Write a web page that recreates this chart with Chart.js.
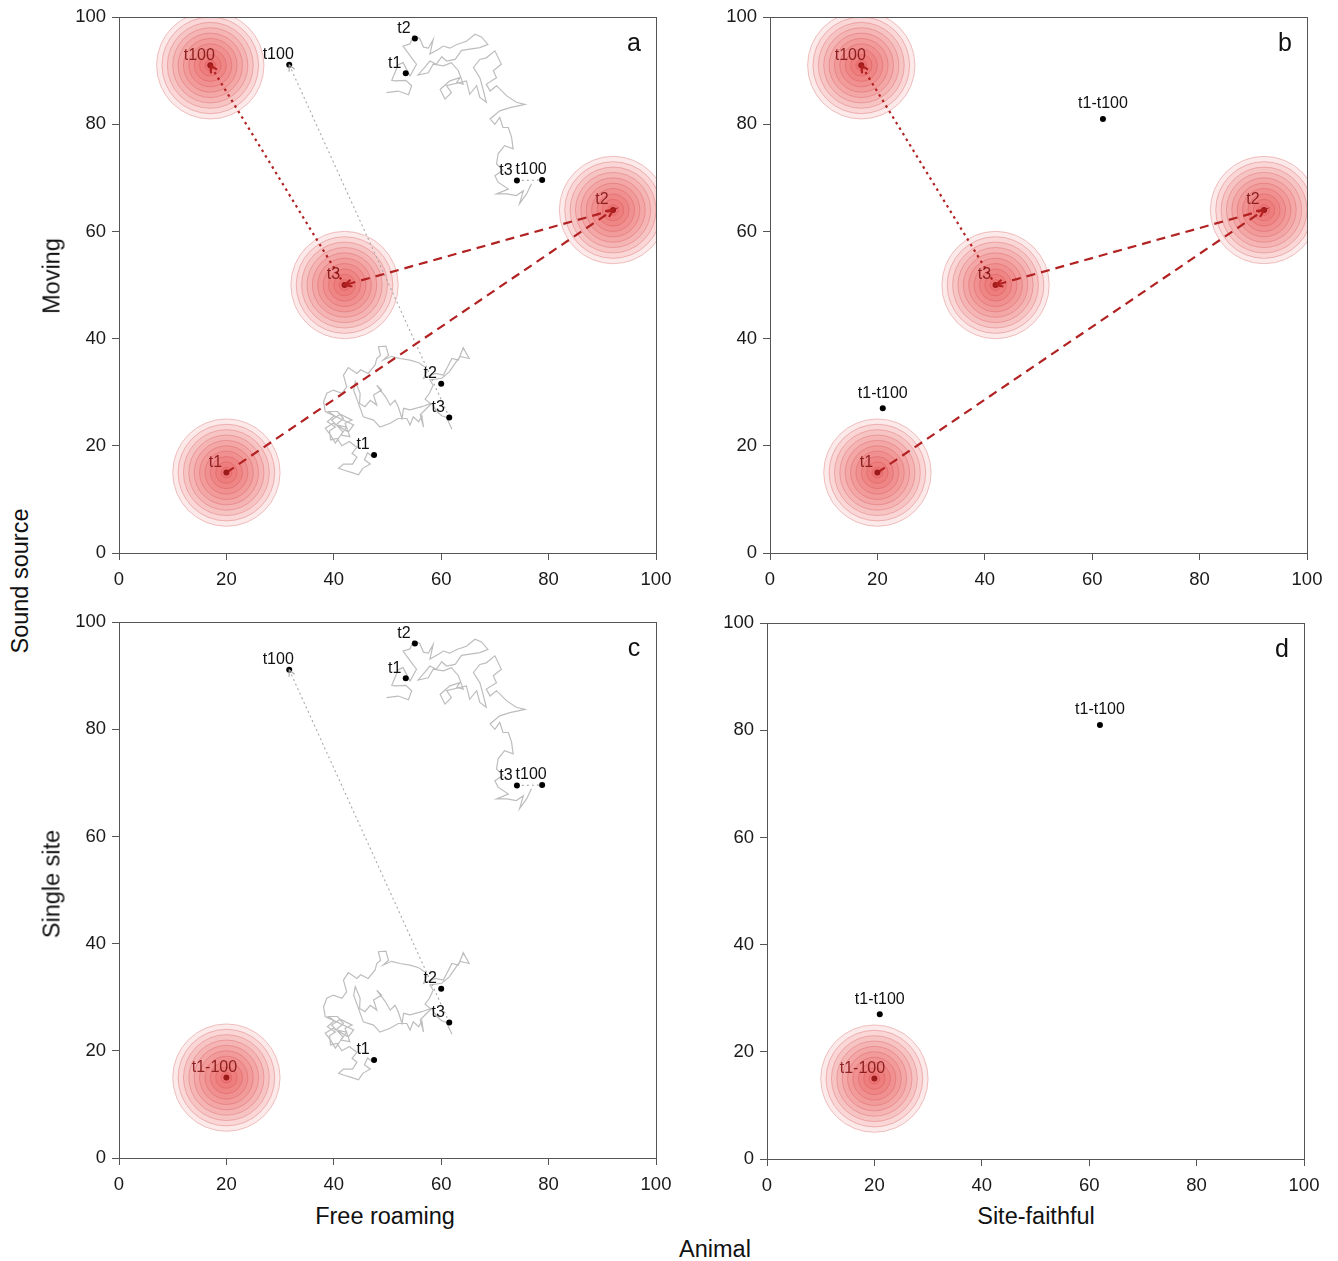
<!DOCTYPE html>
<html>
<head>
<meta charset="utf-8">
<script src="https://cdn.jsdelivr.net/npm/chart.js@4/dist/chart.umd.min.js"></script>
<style>
  body { margin: 0; width: 1338px; height: 1261px; position: relative; background: #fff; overflow: hidden; font-family: "Liberation Sans", Arial, sans-serif; }
  canvas { position: absolute; }
  .lbl { position: absolute; font-size: 23.5px; color: #111; white-space: nowrap; transform: translate(-50%, -50%); }
  .rot { transform: translate(-50%, -50%) rotate(-90deg); }
</style>
</head>
<body>
<canvas id="pa" width="623" height="593" style="left:59px;top:0px"></canvas>
<canvas id="pb" width="623" height="593" style="left:710px;top:0px"></canvas>
<canvas id="pc" width="623" height="593" style="left:59px;top:605px"></canvas>
<canvas id="pd" width="623" height="593" style="left:707px;top:606px"></canvas>

<div class="lbl rot" style="left:52px;top:276px">Moving</div>
<div class="lbl rot" style="left:52px;top:884px">Single site</div>
<div class="lbl rot" style="left:20px;top:581px">Sound source</div>
<div class="lbl" style="left:385px;top:1216px">Free roaming</div>
<div class="lbl" style="left:1036px;top:1216px">Site-faithful</div>
<div class="lbl" style="left:715px;top:1249px">Animal</div>

<script>
// axis ticks
const tickValues = [0, 20, 40, 60, 80, 100];

// sound source positions
const movingSrcX = [20, 92, 42, 17];
const movingSrcY = [15, 64, 50, 91];
const movingSrcLabels = ["t1", "t2", "t3", "t100"];
const singleSrcX = [20];
const singleSrcY = [15];
const singleSrcLabels = ["t1-100"];
// radii of the concentric rings around a source
const ringRadii = [1, 2, 3, 4, 5, 6, 7, 8, 9, 10];

// free roaming animals (t1, t2, t3, t100)
const roamerAX = [47.5, 60.0, 61.5, 31.7];
const roamerAY = [18.3, 31.6, 25.3, 91.1];
const roamerBX = [53.4, 55.1, 74.1, 78.8];
const roamerBY = [89.5, 96.0, 69.5, 69.6];
const roamerLabels = ["t1", "t2", "t3", "t100"];

// tracks of the free roaming animals
const walkAX = [47.1, 46.3, 45.7, 46.8, 45.4, 44.6, 43.4, 42.1, 40.9, 41.8, 43.5, 44.3, 43.4, 44.3, 42.9, 41.5, 40.6, 39.4, 39.2, 40.3,
  38.8, 40.1, 39.0, 40.7, 41.8, 40.4, 42.4, 41.3, 43.0, 42.1, 43.4, 41.2, 39.6, 41.7, 40.3, 39.4, 38.4, 39.9, 42.7, 43.7,
  38.4, 38.1, 38.7, 39.9, 41.5, 42.4, 41.8, 42.7, 44.3, 45.0, 46.4, 47.7, 48.0, 48.7, 48.3, 49.7, 50.2, 49.2, 50.8, 52.3,
  54.2, 55.8, 57.0, 57.3, 56.7, 58.9, 60.4, 61.0, 62.0, 63.2, 64.1, 65.2, 63.5, 62.4, 61.5, 60.1, 57.9, 58.5, 57.8, 57.0,
  58.0, 56.4, 54.2, 53.0, 52.7, 52.0, 51.4, 50.5, 49.6, 48.0, 48.9, 47.4, 48.0, 46.8, 45.8, 44.8, 44.9, 44.0, 43.7, 45.5,
  47.4, 48.6, 50.5, 52.0, 53.6, 54.2, 54.8, 55.8, 56.4, 56.7, 56.1, 58.2, 59.2, 60.1, 61.0, 62.0];
const walkAY = [18.0, 18.7, 17.4, 16.6, 15.8, 14.6, 15.0, 15.4, 15.8, 16.6, 16.6, 17.9, 18.6, 19.7, 20.8, 20.0, 21.4, 21.1, 22.8, 23.5,
  24.5, 25.6, 26.4, 26.4, 25.1, 23.9, 23.5, 22.0, 21.7, 24.2, 24.8, 25.9, 24.8, 22.6, 20.5, 22.0, 23.3, 24.2, 22.6, 23.9,
  26.4, 28.2, 29.8, 30.4, 29.8, 31.0, 33.2, 34.6, 33.5, 34.2, 33.5, 35.1, 36.3, 36.9, 38.5, 38.6, 36.9, 36.0, 36.7, 36.3,
  36.0, 35.5, 34.7, 33.8, 32.6, 33.5, 33.2, 34.4, 36.3, 36.0, 38.3, 36.3, 36.7, 35.1, 33.8, 32.6, 32.3, 31.3, 29.8, 28.7,
  27.9, 27.3, 26.7, 27.0, 25.1, 27.3, 28.5, 27.6, 29.2, 31.3, 30.4, 29.5, 27.6, 28.5, 27.3, 27.9, 29.8, 32.0, 30.4, 25.4,
  24.8, 23.5, 24.2, 25.1, 25.1, 23.9, 25.4, 24.5, 25.6, 23.5, 25.8, 27.9, 26.4, 25.6, 25.3, 23.1];
const walkBX = [49.8, 52.0, 53.9, 54.5, 53.4, 51.4, 50.8, 52.0, 52.9, 54.2, 55.4, 54.5, 52.9, 54.2, 54.8, 56.0, 56.7, 57.6, 58.5, 57.9,
  59.5, 60.4, 61.6, 62.9, 64.7, 66.3, 67.5, 68.7, 67.2, 63.8, 62.6, 61.0, 60.1, 59.1, 57.9, 57.0, 55.7, 57.6, 58.5, 60.4,
  61.9, 63.2, 64.1, 62.9, 63.5, 61.6, 59.8, 60.7, 61.9, 61.0, 64.7, 65.3, 66.6, 67.2, 68.4, 67.8, 67.2, 66.0, 67.2, 68.4,
  70.0, 71.2, 69.7, 70.3, 68.4, 69.1, 70.3, 72.2, 74.0, 75.6, 72.8, 70.9, 69.1, 70.0, 70.9, 71.5, 72.5, 73.1, 73.4, 71.8,
  70.6, 70.3, 71.5, 70.0, 70.6, 72.5, 70.3, 72.2, 74.0, 75.3, 74.6, 75.9, 76.8];
const walkBY = [85.9, 86.2, 85.5, 87.2, 88.2, 88.1, 88.2, 91.1, 91.5, 89.0, 91.2, 92.4, 94.6, 95.0, 96.5, 96.0, 94.4, 94.2, 95.8, 93.1,
  94.0, 94.6, 94.2, 94.9, 95.5, 96.8, 96.3, 94.9, 94.3, 93.8, 92.1, 91.8, 92.6, 91.2, 91.8, 90.7, 89.2, 89.6, 91.2, 90.9,
  91.5, 90.0, 87.5, 87.8, 88.7, 88.1, 86.5, 84.7, 85.9, 87.2, 88.1, 85.6, 87.2, 85.0, 84.1, 86.5, 88.7, 90.6, 92.1, 92.4,
  93.7, 91.2, 90.0, 88.7, 87.5, 86.2, 87.2, 85.3, 84.1, 83.7, 83.1, 82.5, 81.0, 80.0, 81.3, 79.4, 79.4, 77.6, 75.4, 76.0,
  74.5, 72.6, 71.4, 70.4, 69.2, 67.9, 67.0, 67.0, 66.7, 67.6, 65.2, 67.0, 68.9];

// site-faithful animals
const faithfulX = [62, 21];
const faithfulY = [81, 27];
const faithfulLabels = ["t1-t100", "t1-t100"];

const FONT = '"Liberation Sans", Arial, sans-serif';
const pts = (xs, ys) => xs.map((x, i) => ({ x: x, y: ys[i] }));

// box around the plot + panel letter + point labels + arrow heads
const extras = {
  id: "extras",
  afterDatasetsDraw(chart) {
    const ctx = chart.ctx;
    ctx.save();
    chart.data.datasets.forEach((ds, i) => {
      const meta = chart.getDatasetMeta(i);
      if (ds.arrowHeads) {
        for (let k = 1; k < meta.data.length; k++) {
          const p0 = meta.data[k - 1], p1 = meta.data[k];
          const ang = Math.atan2(p1.y - p0.y, p1.x - p0.x);
          const L = ds.arrowLen || 8;
          ctx.strokeStyle = ds.borderColor;
          ctx.lineWidth = ds.borderWidth;
          ctx.setLineDash([]);
          ctx.beginPath();
          ctx.moveTo(p1.x - L * Math.cos(ang - 0.45), p1.y - L * Math.sin(ang - 0.45));
          ctx.lineTo(p1.x, p1.y);
          ctx.lineTo(p1.x - L * Math.cos(ang + 0.45), p1.y - L * Math.sin(ang + 0.45));
          ctx.stroke();
        }
      }
      if (ds.pointLabels) {
        ctx.font = "16px " + FONT;
        ctx.fillStyle = ds.labelColor;
        ctx.textAlign = "center";
        ctx.textBaseline = "middle";
        meta.data.forEach((p, k) => {
          const dx = ds.labelDx !== undefined ? ds.labelDx : -11;
          const dy = ds.labelDy !== undefined ? ds.labelDy : -10;
          ctx.fillText(ds.pointLabels[k], p.x + dx, p.y + dy);
        });
      }
    });
    ctx.restore();
  },
  afterDraw(chart) {
    const ctx = chart.ctx;
    const a = chart.chartArea;
    ctx.save();
    ctx.strokeStyle = "#555";
    ctx.lineWidth = 1;
    ctx.strokeRect(Math.round(a.left) + 0.5, Math.round(a.top) + 0.5, Math.round(a.right - a.left), Math.round(a.bottom - a.top));
    ctx.font = "25px " + FONT;
    ctx.fillStyle = "#111";
    ctx.textAlign = "center";
    ctx.textBaseline = "middle";
    ctx.fillText(chart.options.plugins.extras.letter, a.right - 22, a.top + 27);
    ctx.restore();
  }
};

function ringDatasets(xs, ys) {
  return ringRadii.map(r => ({
    data: pts(xs, ys),
    pointRadius: c => c.chart.scales.x.getPixelForValue(r) - c.chart.scales.x.getPixelForValue(0),
    pointBackgroundColor: "rgba(232, 58, 58, 0.11)",
    pointBorderColor: "rgba(205, 70, 70, 0.3)",
    pointBorderWidth: 1,
    showLine: false,
    clip: 0,
    order: 30
  }));
}

function walkDatasets() {
  return [
    { data: pts(walkAX, walkAY), showLine: true, pointRadius: 0, borderColor: "#bdbdbd", borderWidth: 1.2, clip: 0, order: 20 },
    { data: pts(walkBX, walkBY), showLine: true, pointRadius: 0, borderColor: "#bdbdbd", borderWidth: 1.2, clip: 0, order: 20 },
    { data: pts(roamerAX.slice(2), roamerAY.slice(2)), showLine: true, pointRadius: 0, borderColor: "#a8a8a8", borderWidth: 1.1,
      borderDash: [2, 3], arrowHeads: true, arrowLen: 7, order: 19 },
    { data: pts(roamerBX.slice(2), roamerBY.slice(2)), showLine: true, pointRadius: 0, borderColor: "#a8a8a8", borderWidth: 1.1,
      borderDash: [2, 3], order: 19 },
    { data: pts(roamerAX, roamerAY), showLine: false, pointRadius: 3, pointBackgroundColor: "#000", pointBorderWidth: 0,
      pointLabels: roamerLabels, labelColor: "#111", order: 1 },
    { data: pts(roamerBX, roamerBY), showLine: false, pointRadius: 3, pointBackgroundColor: "#000", pointBorderWidth: 0,
      pointLabels: roamerLabels, labelColor: "#111", order: 1 }
  ];
}

function faithfulDatasets() {
  return [
    { data: pts(faithfulX, faithfulY), showLine: false, pointRadius: 3, pointBackgroundColor: "#000", pointBorderWidth: 0,
      pointLabels: faithfulLabels, labelColor: "#111", labelDx: 0, labelDy: -15, order: 1 }
  ];
}

function movingDatasets() {
  return ringDatasets(movingSrcX, movingSrcY).concat([
    { data: pts(movingSrcX, movingSrcY), showLine: true, pointRadius: 0, borderColor: "#b22222", borderWidth: 2.2,
      segment: { borderDash: c => (c.p0DataIndex === 2 ? [2.5, 4] : [9, 6]) }, arrowHeads: true, arrowLen: 8, order: 5 },
    { data: pts(movingSrcX, movingSrcY), showLine: false, pointRadius: 3, pointBackgroundColor: "#9b1b1b", pointBorderWidth: 0,
      pointLabels: movingSrcLabels, labelColor: "rgba(130, 20, 20, 0.9)", order: 2 }
  ]);
}

function singleDatasets() {
  return ringDatasets(singleSrcX, singleSrcY).concat([
    { data: pts(singleSrcX, singleSrcY), showLine: false, pointRadius: 3, pointBackgroundColor: "#9b1b1b", pointBorderWidth: 0,
      pointLabels: singleSrcLabels, labelColor: "rgba(130, 20, 20, 0.9)", labelDx: -12, order: 2 }
  ]);
}

function axis(isY) {
  return {
    type: "linear",
    min: 0,
    max: 100,
    afterBuildTicks: s => { s.ticks = tickValues.map(v => ({ value: v })); },
    afterFit: s => { if (isY) s.width = 60; else s.height = 40; },
    grid: { display: true, drawOnChartArea: false, drawTicks: true, tickLength: 7, color: "#555", lineWidth: 1 },
    border: { display: true, color: "#555", width: 1 },
    ticks: { font: { family: FONT, size: 18.5 }, color: "#1a1a1a", padding: isY ? 6 : 9, maxRotation: 0 }
  };
}

function makePanel(id, letter, datasets) {
  new Chart(document.getElementById(id), {
    type: "scatter",
    data: { datasets: datasets },
    plugins: [extras],
    options: {
      responsive: false,
      animation: false,
      devicePixelRatio: 1,
      events: [],
      layout: { padding: { top: 16, right: 26, left: 0, bottom: 0 } },
      scales: { x: axis(false), y: axis(true) },
      plugins: { legend: { display: false }, tooltip: { enabled: false }, extras: { letter: letter } }
    }
  });
}

makePanel("pa", "a", movingDatasets().concat(walkDatasets()));
makePanel("pb", "b", movingDatasets().concat(faithfulDatasets()));
makePanel("pc", "c", singleDatasets().concat(walkDatasets()));
makePanel("pd", "d", singleDatasets().concat(faithfulDatasets()));
</script>
</body>
</html>
